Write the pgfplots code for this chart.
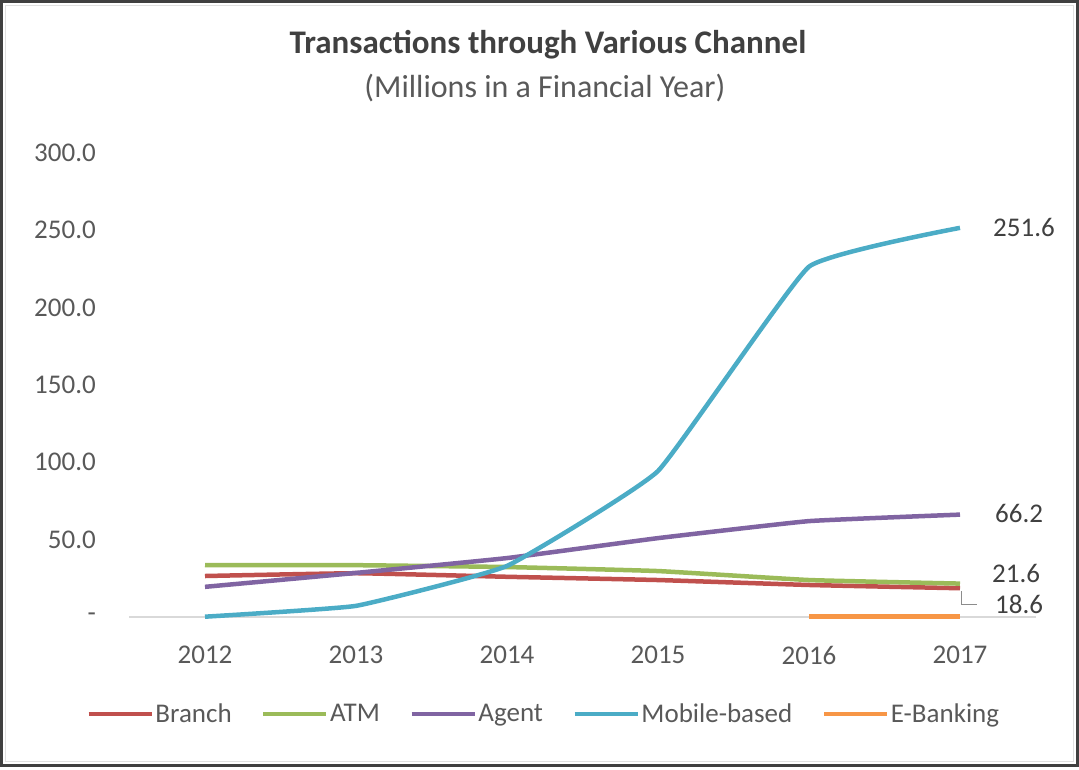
\documentclass[border=0pt]{standalone}
\usepackage{fontspec}
\setmainfont{Carlito}
\usepackage{pgfplots}
\pgfplotsset{compat=1.18}
\definecolor{branch}{HTML}{C0504D}
\definecolor{atm}{HTML}{9BBB59}
\definecolor{agent}{HTML}{8064A2}
\definecolor{mobile}{HTML}{4BACC6}
\definecolor{ebank}{HTML}{F79646}
\definecolor{titlegray}{HTML}{404040}
\definecolor{textgray}{HTML}{595959}

\begin{document}
\begin{tikzpicture}[x=1pt,y=1pt]
  \useasboundingbox (0,0) rectangle (1079,769);
  \draw[line width=3pt, black!75] (1.5,3.5) rectangle (1077.5,767.5);
  \draw[line width=0.8pt, black!12] (5.5,7.5) rectangle (1073.5,763.5);
  \node[font=\fontsize{33}{40}\selectfont\bfseries, text=titlegray] at (548,724) {Transactions through Various Channel};
  \node[font=\fontsize{32}{38}\selectfont, text=textgray] at (545,681) {(Millions in a Financial Year)};
  \begin{axis}[
      at={(129.5pt,152pt)}, anchor=south west,
      scale only axis, width=906pt, height=464pt,
      xmin=-0.5, xmax=5.5, ymin=0, ymax=300,
      clip=false,
      axis line style={draw=none},
      major tick length=0pt,
      xtick={0,1,2,3,4,5},
      xticklabels={2012,2013,2014,2015,2016,2017},
      ytick={0,50,100,150,200,250,300},
      yticklabels={-,50.0,100.0,150.0,200.0,250.0,300.0},
      ticklabel style={font=\fontsize{27}{32}\selectfont, text=textgray, inner sep=0pt},
      xticklabel style={anchor=center, yshift=-38pt},
      yticklabel style={anchor=east, xshift=-33.5pt},
      every axis plot/.append style={line width=4.5pt},
      legend columns=5,
      legend style={at={(0.457,-0.209)}, anchor=center, draw=none, fill=none,
        font=\fontsize{27}{32}\selectfont, text=textgray,
        nodes={inner sep=1.5pt},
        /tikz/every even column/.append style={column sep=28pt}},
      legend image code/.code={\draw[#1] (0pt,0pt) -- (63pt,0pt);},
    ]
    \draw[black!15, line width=1.5pt] (axis cs:-0.5,0) -- (axis cs:5.5,0);

    \addplot[branch, smooth, tension=0.2] coordinates {(0,26.5) (1,28.3) (2,26.0) (3,23.9) (4,20.7) (5,18.6)};
    \addlegendentry{Branch}
    \addplot[atm, smooth, tension=0.2] coordinates {(0,33.6) (1,33.5) (2,32.3) (3,29.7) (4,23.9) (5,21.6)};
    \addlegendentry{ATM}
    \addplot[agent, smooth, tension=0.2] coordinates {(0,19.5) (1,28.5) (2,38.1) (3,51.0) (4,62.0) (5,66.2)};
    \addlegendentry{Agent}
    \addplot[mobile, smooth, tension=0.2] coordinates {(0,0.2) (1,7.2) (2,33.0) (3,94.4) (4,226.5) (5,251.6)};
    \addlegendentry{Mobile-based}
    \addplot[ebank] coordinates {(4,0.4) (5,0.4)};
    \addlegendentry{E-Banking}

    \draw[black!45, line width=0.8pt] ([xshift=1.5pt,yshift=-3pt]axis cs:5,18.6) -- ([xshift=1.5pt,yshift=-15.8pt]axis cs:5,18.6) -- ([xshift=17pt,yshift=-15.8pt]axis cs:5,18.6);
    \begin{scope}[every node/.style={font=\fontsize{27}{32}\selectfont, text=titlegray, inner sep=0pt, anchor=west}]
      \node[xshift=33pt] at (axis cs:5,251.6) {251.6};
      \node[xshift=35pt, yshift=1.5pt] at (axis cs:5,66.2) {66.2};
      \node[xshift=32pt, yshift=10.5pt] at (axis cs:5,21.6) {21.6};
      \node[xshift=35pt, yshift=-15.8pt] at (axis cs:5,18.6) {18.6};
    \end{scope}
  \end{axis}
\end{tikzpicture}
\end{document}
